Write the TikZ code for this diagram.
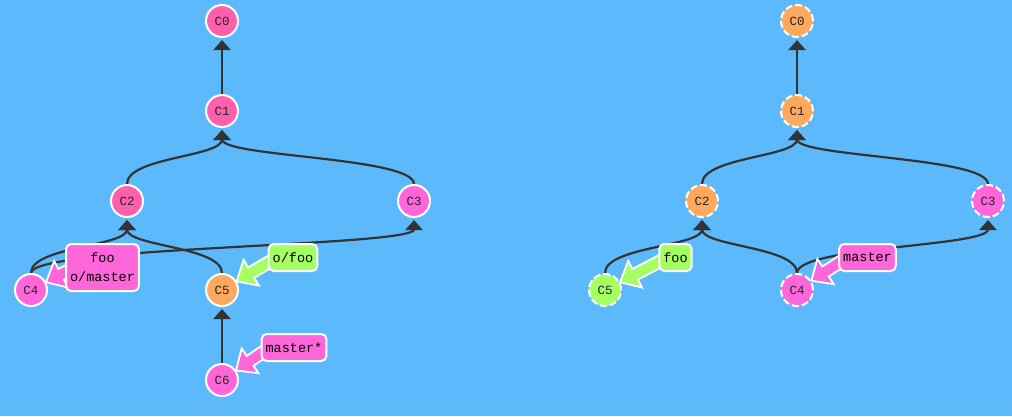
\documentclass[tikz,border=0pt]{standalone}
\usepackage{fontspec}
\newfontfamily\gmono{Liberation Mono}
\usetikzlibrary{arrows.meta,calc}
\pgfdeclarelayer{back}
\pgfdeclarelayer{edges}
\pgfdeclarelayer{arrows}
\pgfsetlayers{back,edges,arrows,main}
\definecolor{bgblue}{HTML}{5CBAFC}
\definecolor{hpink}{HTML}{FF5FAB}
\definecolor{gmag}{HTML}{FF66DA}
\definecolor{gorange}{HTML}{FFA95F}
\definecolor{ggreen}{HTML}{A5FF62}
\definecolor{edgegray}{HTML}{333333}
\tikzset{
  commit/.style={circle, minimum size=32pt, inner sep=0pt, line width=2pt, draw=white,
    text=black!85, font=\gmono\fontsize{12.5}{14}\selectfont},
  dcommit/.style={commit, dash pattern=on 7pt off 3pt},
  blabel/.style={rectangle, rounded corners=5pt, line width=2pt, draw=white,
    inner xsep=4pt, inner ysep=3pt, minimum height=27pt, align=center,
    font=\gmono\fontsize{13.5}{19}\selectfont, text=black},
  edge/.style={draw=edgegray, line width=2.2pt, -{Triangle[width=17pt,length=10pt]}},
  barrow/.style={draw=white, line width=1.8pt, line join=miter},
}
\newcommand\gedge[2]{%
  \begin{pgfonlayer}{edges}
  \draw[edge] let \p1=(#1.north), \p2=([yshift=-2pt]#2.south) in
    (\p1) .. controls (\x1,{(\y1+\y2)/2}) and (\x2,{(\y1+\y2)/2}) .. (\p2);
  \end{pgfonlayer}}
\newcommand\brarrow[3]{%
  \begin{pgfonlayer}{arrows}
  \draw[barrow, fill=#3] let \p1=($(#1.west)+(9pt,0pt)$), \p2=($(#2)!17pt!(\p1)$),
     \n1={atan2(\y1-\y2,\x1-\x2)} in
    (\p2) -- ($(\p2)+(\n1:17pt)+(\n1+90:15pt)$)
    -- ($(\p2)+(\n1:17pt)+(\n1+90:6pt)$)
    -- ($(\p1)+(\n1+90:6pt)$)
    -- ($(\p1)+(\n1-90:6pt)$)
    -- ($(\p2)+(\n1:17pt)+(\n1-90:6pt)$)
    -- ($(\p2)+(\n1:17pt)+(\n1-90:15pt)$) -- cycle;
  \end{pgfonlayer}}
\begin{document}
\begin{tikzpicture}[x=1pt,y=-1pt]
\begin{pgfonlayer}{back}
\path[fill=bgblue] (0,0) rectangle (1012,416);
\end{pgfonlayer}
\useasboundingbox (0,0) rectangle (1012,416);
% left tree
\node[commit, fill=hpink] (c0) at (222,21) {C0};
\node[commit, fill=hpink] (c1) at (222,111) {C1};
\node[commit, fill=hpink] (c2) at (127,201) {C2};
\node[commit, fill=gmag] (c3) at (414,201) {C3};
\node[commit, fill=gmag] (c4) at (31,290) {C4};
\node[commit, fill=gorange] (c5) at (222,290) {C5};
\node[commit, fill=gmag] (c6) at (222,380) {C6};
\gedge{c1}{c0}
\gedge{c2}{c1}
\gedge{c3}{c1}
\gedge{c4}{c2}
\gedge{c4}{c3}
\gedge{c5}{c2}
\gedge{c6}{c5}
\node[blabel, fill=gmag, minimum height=47pt, minimum width=71pt] (l1) at (102.5,267.5) {foo\\o/master};
\node[blabel, fill=ggreen] (l2) at (293,257.5) {o/foo};
\node[blabel, fill=gmag] (l3) at (294,347.5) {master*};
\brarrow{l1}{c4}{gmag}
\brarrow{l2}{c5}{ggreen}
\brarrow{l3}{c6}{gmag}
% right tree
\node[dcommit, fill=gorange] (r0) at (797,21) {C0};
\node[dcommit, fill=gorange] (r1) at (797,111) {C1};
\node[dcommit, fill=gorange] (r2) at (702,201) {C2};
\node[dcommit, fill=gmag] (r3) at (988,201) {C3};
\node[dcommit, fill=ggreen] (r5) at (605,290) {C5};
\node[dcommit, fill=gmag] (r4) at (797,290) {C4};
\gedge{r1}{r0}
\gedge{r2}{r1}
\gedge{r3}{r1}
\gedge{r5}{r2}
\gedge{r4}{r2}
\gedge{r4}{r3}
\node[blabel, fill=ggreen] (m1) at (675.5,257.5) {foo};
\node[blabel, fill=gmag] (m2) at (867.5,257.5) {master};
\brarrow{m1}{r5}{ggreen}
\brarrow{m2}{r4}{gmag}
\end{tikzpicture}
\end{document}
